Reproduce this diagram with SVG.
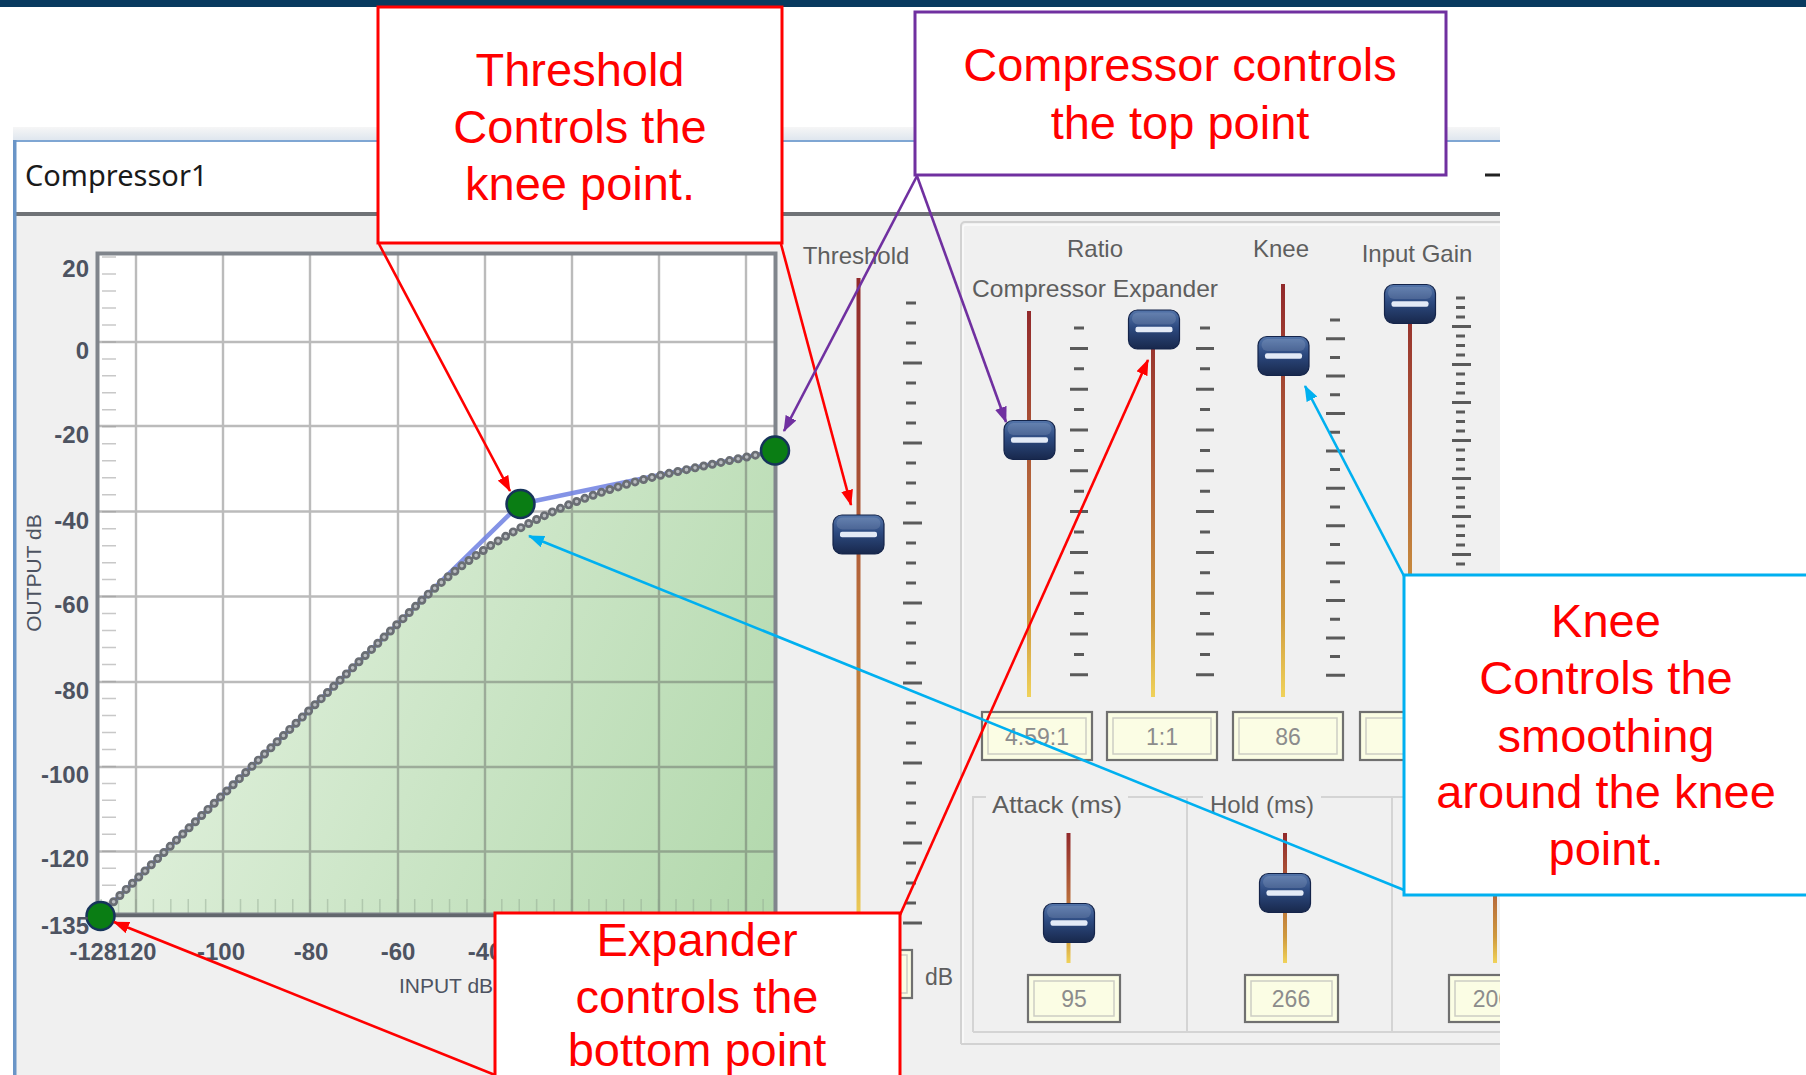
<svg xmlns="http://www.w3.org/2000/svg" width="1806" height="1075" viewBox="0 0 1806 1075">
<defs>
<style>
.ui{font-family:"Liberation Sans",Arial,sans-serif;fill:#5e5e5e;font-size:24px}
.ax{font-family:"Liberation Sans",Arial,sans-serif;font-weight:bold;fill:#4d5361;font-size:24px}
.val{font-family:"Liberation Sans",Arial,sans-serif;fill:#8c8c8c;font-size:23px;text-anchor:middle}
.note{font-family:"Liberation Sans",Arial,sans-serif;fill:#ff0000;font-size:47px;text-anchor:middle}
.vbo{fill:#fbfde4;stroke:#707070;stroke-width:2.2}
.vbi{fill:none;stroke:#cdcdc4;stroke-width:1.5}
.tick{stroke:#5a5a5a;stroke-width:3;fill:none}
.grid{stroke:#555;stroke-opacity:.4;stroke-width:2.4;fill:none}
.trk{fill:url(#trackGrad)}
.pt{fill:#0a7d14;stroke:#16345a;stroke-width:2.5}
</style>
<linearGradient id="trackGrad" x1="0" y1="0" x2="0" y2="1">
<stop offset="0" stop-color="#92292b"/>
<stop offset="0.45" stop-color="#b4643a"/>
<stop offset="0.8" stop-color="#cf9a3e"/>
<stop offset="1" stop-color="#f0d25a"/>
</linearGradient>
<linearGradient id="thumbGrad" x1="0" y1="0" x2="0" y2="1">
<stop offset="0" stop-color="#5475aa"/>
<stop offset="0.45" stop-color="#2d4a80"/>
<stop offset="1" stop-color="#18284c"/>
</linearGradient>
<linearGradient id="fillGrad" x1="100" y1="600" x2="775" y2="914" gradientUnits="userSpaceOnUse">
<stop offset="0" stop-color="#e6f3e2"/>
<stop offset="1" stop-color="#b2d8ac"/>
</linearGradient>
<linearGradient id="topStrip" x1="0" y1="0" x2="0" y2="1">
<stop offset="0" stop-color="#f6f6f6"/>
<stop offset="1" stop-color="#dde5ee"/>
</linearGradient>
<g id="thumb">
<rect x="-25.5" y="-19.5" width="51" height="39" rx="9" fill="url(#thumbGrad)" stroke="#14244a" stroke-width="1.2"/>
<rect x="-22" y="-17" width="44" height="12" rx="6" fill="#ffffff" fill-opacity="0.12"/>
<rect x="-18.5" y="-2.8" width="37" height="5.6" rx="2" fill="#e3eaf6"/>
</g>
<clipPath id="winClip"><rect x="13" y="127" width="1487" height="948"/></clipPath>
<marker id="arRed" viewBox="0 0 16 12" refX="15" refY="6" markerWidth="16" markerHeight="12" markerUnits="userSpaceOnUse" orient="auto"><path d="M0,0 L16,6 L0,12 z" fill="#ff0000"/></marker>
<marker id="arPurple" viewBox="0 0 16 12" refX="15" refY="6" markerWidth="16" markerHeight="12" markerUnits="userSpaceOnUse" orient="auto"><path d="M0,0 L16,6 L0,12 z" fill="#7030a0"/></marker>
<marker id="arCyan" viewBox="0 0 16 12" refX="15" refY="6" markerWidth="16" markerHeight="12" markerUnits="userSpaceOnUse" orient="auto"><path d="M0,0 L16,6 L0,12 z" fill="#00b0f0"/></marker>
</defs>

<rect x="0" y="0" width="1806" height="1075" fill="#ffffff"/>
<rect x="0" y="0" width="1806" height="7" fill="#083a5f"/>

<g id="window" clip-path="url(#winClip)">
<rect x="13" y="127" width="1487" height="14" fill="url(#topStrip)"/>
<rect x="13" y="140" width="1487" height="2.5" fill="#7fa6d3"/>
<rect x="13" y="142" width="1487" height="71" fill="#ffffff"/>
<text x="25" y="186" style="font-family:'Noto Sans','Open Sans',sans-serif;font-size:29px;fill:#1a1a1a">Compressor1</text>
<path d="M1485 175h15" stroke="#222" stroke-width="3"/>
<rect x="13" y="212" width="1487" height="4" fill="#6f7276"/>
<rect x="13" y="216" width="1487" height="859" fill="#f0f0f0"/>
<rect x="13" y="140" width="3.5" height="935" fill="#6a95c7"/>

<g id="plot">
<rect x="99" y="255" width="675" height="659" fill="#ffffff"/>
<path d="M101 914 L420 602 Q520 504 680 471 L775 451 L775 914 Z" fill="url(#fillGrad)"/>
<path class="grid" d="M136 255V914M223 255V914M310 255V914M398 255V914M485 255V914M572 255V914M659 255V914M746 255V914M99 342H774M99 426H774M99 511.5H774M99 596.5H774M99 682H774M99 767H774M99 851.5H774"/>
<line x1="109" y1="256.25" x2="109" y2="914" stroke="#9a9a9a" stroke-opacity="0.55" stroke-width="14" stroke-dasharray="1.5 15.48"/>
<line x1="100.4" y1="906" x2="775" y2="906" stroke="#8fa48f" stroke-opacity="0.45" stroke-width="14" stroke-dasharray="1.5 15.92"/>
<rect x="97.5" y="253.5" width="678" height="661" fill="none" stroke="#80858c" stroke-width="4"/>
<path d="M97 915.5H777" stroke="#62676d" stroke-width="3.5"/>
<path d="M101 914 L520 504 L775 451" fill="none" stroke="#6f80e2" stroke-opacity="0.85" stroke-width="4.5" stroke-linejoin="round"/>
<path d="M101 914 L420 602 Q520 504 680 471 L775 451" fill="none" stroke="#6a6e74" stroke-width="9" stroke-linecap="round" stroke-dasharray="0 8.8"/>
<path d="M101 914 L420 602 Q520 504 680 471 L775 451" fill="none" stroke="#b9bcc0" stroke-width="3.6" stroke-linecap="round" stroke-dasharray="0 8.8"/>
<circle class="pt" cx="520.5" cy="504" r="14"/>
<circle class="pt" cx="775" cy="450.5" r="14"/>
<circle class="pt" cx="100.5" cy="916" r="14"/>
<g class="ax" text-anchor="end">
<text x="89" y="277">20</text>
<text x="89" y="359">0</text>
<text x="89" y="443">-20</text>
<text x="89" y="529">-40</text>
<text x="89" y="613">-60</text>
<text x="89" y="699">-80</text>
<text x="89" y="783">-100</text>
<text x="89" y="867">-120</text>
<text x="89" y="934">-135</text>
</g>
<g class="ax" text-anchor="middle">
<text x="113" y="960" textLength="87" lengthAdjust="spacingAndGlyphs">-128120</text>
<text x="221" y="960">-100</text>
<text x="311" y="960">-80</text>
<text x="398" y="960">-60</text>
<text x="485" y="960">-40</text>
</g>
<text x="446" y="993" class="ui" style="font-size:21px;fill:#4d5361" text-anchor="middle">INPUT dB</text>
<text transform="translate(41,573) rotate(-90)" class="ui" style="font-size:21px;fill:#4d5361" text-anchor="middle">OUTPUT dB</text>
</g>

<g id="threshold-slider">
<text x="856" y="264" class="ui" text-anchor="middle">Threshold</text>
<rect class="trk" x="856.5" y="278" width="4" height="654"/>
<path class="tick" d="M906 303h10M906 323h10M906 343h10M906 383h10M906 403h10M906 423h10M906 463h10M906 483h10M906 503h10M906 543h10M906 563h10M906 583h10M906 623h10M906 643h10M906 663h10M906 703h10M906 723h10M906 743h10M906 783h10M906 803h10M906 823h10M906 863h10M906 883h10M906 903h10M903 363h19M903 443h19M903 523h19M903 603h19M903 683h19M903 763h19M903 843h19M903 923h19"/>
<use href="#thumb" x="858.5" y="534.5"/>
<rect class="vbo" x="826" y="950" width="86" height="48"/>
<rect class="vbi" x="831" y="955" width="76" height="38"/>
<text x="925" y="985" class="ui" style="font-size:23px">dB</text>
</g>

<g id="groupbox" fill="none">
<path d="M961 1044V226a4 4 0 0 1 4 -4H1500" stroke="#d2d2d2" stroke-width="2"/>
<path d="M963 1044V228a3 3 0 0 1 3 -3H1500" stroke="#fafafa" stroke-width="1.5"/>
<path d="M961 1044H1500" stroke="#d2d2d2" stroke-width="2"/>
<path d="M973 1032V797H1500M1187 797V1032M1392 797V1032M973 1032H1500" stroke="#d4d4d4" stroke-width="2"/>
</g>

<g id="ratio-knee-gain">
<text x="1095" y="257" class="ui" text-anchor="middle">Ratio</text>
<text x="1095" y="297" class="ui" text-anchor="middle" textLength="246" lengthAdjust="spacingAndGlyphs">Compressor Expander</text>
<text x="1281" y="257" class="ui" text-anchor="middle">Knee</text>
<text x="1417" y="262" class="ui" text-anchor="middle">Input Gain</text>
<rect class="trk" x="1027" y="311" width="4" height="386"/>
<rect class="trk" x="1151" y="312" width="4" height="385"/>
<rect class="trk" x="1281" y="284" width="4" height="413"/>
<rect class="trk" x="1408" y="288" width="4" height="409"/>
<path class="tick" d="M1074 328h10M1074 368.8h10M1074 409.6h10M1074 450.4h10M1074 491.2h10M1074 532h10M1074 572.8h10M1074 613.6h10M1074 654.4h10M1070 348.4h18M1070 389.2h18M1070 430h18M1070 470.8h18M1070 511.6h18M1070 552.4h18M1070 593.2h18M1070 634h18M1070 674.8h18"/>
<path class="tick" d="M1200 328h10M1200 368.8h10M1200 409.6h10M1200 450.4h10M1200 491.2h10M1200 532h10M1200 572.8h10M1200 613.6h10M1200 654.4h10M1196 348.4h18M1196 389.2h18M1196 430h18M1196 470.8h18M1196 511.6h18M1196 552.4h18M1196 593.2h18M1196 634h18M1196 674.8h18"/>
<path class="tick" d="M1330 320h10M1330 357.4h10M1330 394.8h10M1330 432.2h10M1330 469.6h10M1330 507h10M1330 544.4h10M1330 581.8h10M1330 619.2h10M1330 656.6h10M1326 338.7h19M1326 376.1h19M1326 413.5h19M1326 450.9h19M1326 488.3h19M1326 525.7h19M1326 563.1h19M1326 600.5h19M1326 637.9h19M1326 675.3h19"/>
<path class="tick" d="M1456 298h9M1456 307.5h9M1456 317h9M1456 336h9M1456 345.5h9M1456 355h9M1456 374h9M1456 383.5h9M1456 393h9M1456 412h9M1456 421.5h9M1456 431h9M1456 450h9M1456 459.5h9M1456 469h9M1456 488h9M1456 497.5h9M1456 507h9M1456 526h9M1456 535.5h9M1456 545h9M1456 564h9M1452 326.5h19M1452 364.5h19M1452 402.5h19M1452 440.5h19M1452 478.5h19M1452 516.5h19M1452 554.5h19" stroke-width="2.5"/>
<use href="#thumb" x="1029.5" y="440"/>
<use href="#thumb" x="1154" y="329.5"/>
<use href="#thumb" x="1283.5" y="356"/>
<use href="#thumb" x="1410" y="304"/>
<rect class="vbo" x="982" y="712" width="110" height="48"/>
<rect class="vbi" x="988" y="718" width="98" height="36"/>
<rect class="vbo" x="1107" y="712" width="110" height="48"/>
<rect class="vbi" x="1113" y="718" width="98" height="36"/>
<rect class="vbo" x="1233" y="712" width="110" height="48"/>
<rect class="vbi" x="1239" y="718" width="98" height="36"/>
<rect class="vbo" x="1360" y="712" width="110" height="48"/>
<rect class="vbi" x="1366" y="718" width="98" height="36"/>
<text x="1037" y="745" class="val">4.59:1</text>
<text x="1162" y="745" class="val">1:1</text>
<text x="1288" y="745" class="val">86</text>
</g>

<g id="attack-hold">
<rect x="986" y="786" width="142" height="22" fill="#f0f0f0"/>
<rect x="1203" y="786" width="118" height="22" fill="#f0f0f0"/>
<text x="1057" y="813" class="ui" text-anchor="middle" textLength="130" lengthAdjust="spacingAndGlyphs">Attack (ms)</text>
<text x="1262" y="813" class="ui" text-anchor="middle">Hold (ms)</text>
<rect class="trk" x="1066.5" y="833" width="4" height="130"/>
<rect class="trk" x="1283" y="833" width="4" height="130"/>
<rect class="trk" x="1493" y="833" width="4" height="130"/>
<use href="#thumb" x="1069" y="923"/>
<use href="#thumb" x="1285" y="893"/>
<rect class="vbo" x="1028" y="975" width="92" height="47"/>
<rect class="vbi" x="1034" y="981" width="80" height="35"/>
<rect class="vbo" x="1245" y="975" width="93" height="47"/>
<rect class="vbi" x="1251" y="981" width="81" height="35"/>
<rect class="vbo" x="1449" y="975" width="92" height="47"/>
<rect class="vbi" x="1455" y="981" width="80" height="35"/>
<text x="1074" y="1007" class="val">95</text>
<text x="1291" y="1007" class="val">266</text>
<text x="1492" y="1007" class="val">200</text>
</g>
</g>

<g id="connectors" fill="none" stroke-width="2.6">
<line x1="379" y1="244" x2="510" y2="491" stroke="#ff0000" marker-end="url(#arRed)"/>
<line x1="781" y1="244" x2="851" y2="505" stroke="#ff0000" marker-end="url(#arRed)"/>
<line x1="917" y1="176" x2="784" y2="431" stroke="#7030a0" marker-end="url(#arPurple)"/>
<line x1="917" y1="176" x2="1006" y2="422" stroke="#7030a0" marker-end="url(#arPurple)"/>
<line x1="900" y1="915" x2="1148" y2="360" stroke="#ff0000" marker-end="url(#arRed)"/>
<line x1="495" y1="1075" x2="114" y2="922" stroke="#ff0000" marker-end="url(#arRed)"/>
<line x1="1404" y1="576" x2="1305" y2="386" stroke="#00b0f0" marker-end="url(#arCyan)"/>
<line x1="1404" y1="890" x2="529" y2="536" stroke="#00b0f0" marker-end="url(#arCyan)"/>
</g>

<g id="threshold-note">
<rect x="378" y="7" width="404" height="236" fill="#ffffff" stroke="#ff0000" stroke-width="3"/>
<text class="note" x="580" y="86">Threshold</text>
<text class="note" x="580" y="143">Controls the</text>
<text class="note" x="580" y="200">knee point.</text>
</g>

<g id="compressor-note">
<rect x="915" y="12" width="531" height="163" fill="#ffffff" stroke="#7030a0" stroke-width="3"/>
<text class="note" x="1180" y="81">Compressor controls</text>
<text class="note" x="1180" y="139">the top point</text>
</g>

<g id="expander-note">
<rect x="495" y="913" width="405" height="175" fill="#ffffff" stroke="#ff0000" stroke-width="3"/>
<text class="note" x="697" y="956">Expander</text>
<text class="note" x="697" y="1013">controls the</text>
<text class="note" x="697" y="1066">bottom point</text>
</g>

<g id="knee-note">
<rect x="1404" y="575" width="420" height="320" fill="#ffffff" stroke="#00b0f0" stroke-width="3"/>
<text class="note" x="1606" y="637">Knee</text>
<text class="note" x="1606" y="694">Controls the</text>
<text class="note" x="1606" y="752">smoothing</text>
<text class="note" x="1606" y="808">around the knee</text>
<text class="note" x="1606" y="865">point.</text>
</g>
</svg>
